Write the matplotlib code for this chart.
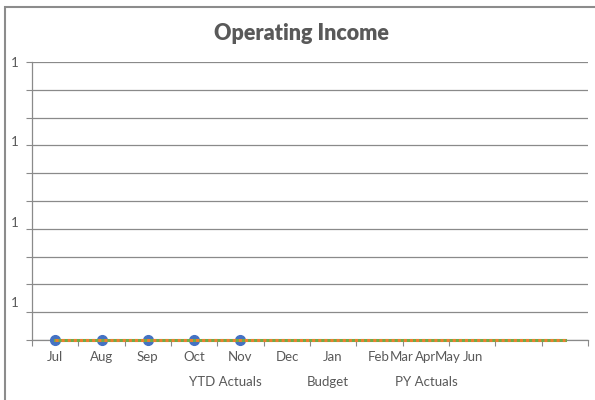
import matplotlib.pyplot as plt
import numpy as np
from matplotlib.patches import Rectangle

plt.rcParams['font.family'] = ['Lato', 'DejaVu Sans']

months = ['Jul', 'Aug', 'Sep', 'Oct', 'Nov', 'Dec', 'Jan', 'Feb', 'Mar', 'Apr', 'May', 'Jun']
ytd_actuals = [0, 0, 0, 0, 0]
budget = [0, 0, 0, 0, 0, 0, 0, 0, 0, 0, 0, 0]
py_actuals = [0, 0, 0, 0, 0, 0, 0, 0, 0, 0, 0, 0]
series_names = ['YTD Actuals', 'Budget', 'PY Actuals']
y_labels = ['1', '1', '1', '1']

text_col = '#595959'
grid_col = '#8a8a8a'

fig = plt.figure(figsize=(5.95, 4.0), dpi=100)
ax = fig.add_axes([32 / 595, 60 / 400, 556 / 595, 278 / 400])

x_all = np.arange(len(months))
x_ytd = np.arange(len(ytd_actuals))

# budget / PY lines overlap -> green under, orange dots on top
ax.plot(x_all, py_actuals, color='#70AD47', lw=2.2, zorder=6, clip_on=False)
ax.plot(x_all, budget, color='#ED7D31', lw=2.2, ls=(0, (1, 1)), zorder=7,
        clip_on=False)
ax.plot(x_ytd, ytd_actuals, color='#4472C4', lw=2, marker='o', ms=7,
        markeredgecolor='#4472C4', zorder=5, clip_on=False)

ax.set_xlim(-0.5, 11.5)
ax.set_ylim(0, 1)

ax.set_yticks(np.linspace(0, 1, 11))
ax.set_yticklabels([])
ax.yaxis.grid(True, color=grid_col, lw=0.9)
ax.set_axisbelow(True)
ax.tick_params(axis='y', length=4, color=grid_col, direction='out')

ax.set_xticks(np.arange(-0.5, 12, 1))
ax.set_xticklabels([])
ax.tick_params(axis='x', length=4, color=grid_col, direction='out')

for s in ['top', 'right']:
    ax.spines[s].set_visible(False)
for s in ['left', 'bottom']:
    ax.spines[s].set_color(grid_col)
    ax.spines[s].set_linewidth(0.9)

# month labels (Excel squeezed Feb..Jun together)
label_px = [55, 102, 147.5, 194, 240, 287, 333, 379, 402, 425.5, 448, 472.5]
for m, px in zip(months, label_px):
    fig.text(px / 595, 1 - 357 / 400, m, ha='center', va='center',
             fontsize=9.5, color=text_col)

ylab_py = [62.7, 141.7, 222.7, 302.7]
for lab, py in zip(y_labels, ylab_py):
    fig.text(15 / 595, 1 - py / 400, lab, ha='center', va='center',
             fontsize=9.5, color=text_col)

leg_px = [225, 327.5, 426.7]
for name, px in zip(series_names, leg_px):
    fig.text(px / 595, 1 - 382 / 400, name, ha='center', va='center',
             fontsize=9.5, color=text_col)

fig.text(301 / 595, 1 - 33 / 400, 'Operating Income', ha='center', va='center',
         fontsize=15.5, fontweight='heavy', color=text_col)

# chart area border, right/bottom run off the image
fig.patches.append(Rectangle((5 / 595, -0.05), 1.0, 1 - 7 / 400 + 0.05,
                             transform=fig.transFigure, fill=False,
                             edgecolor='#8c8c8c', lw=1.5))

fig.savefig('out.png', dpi=100)
